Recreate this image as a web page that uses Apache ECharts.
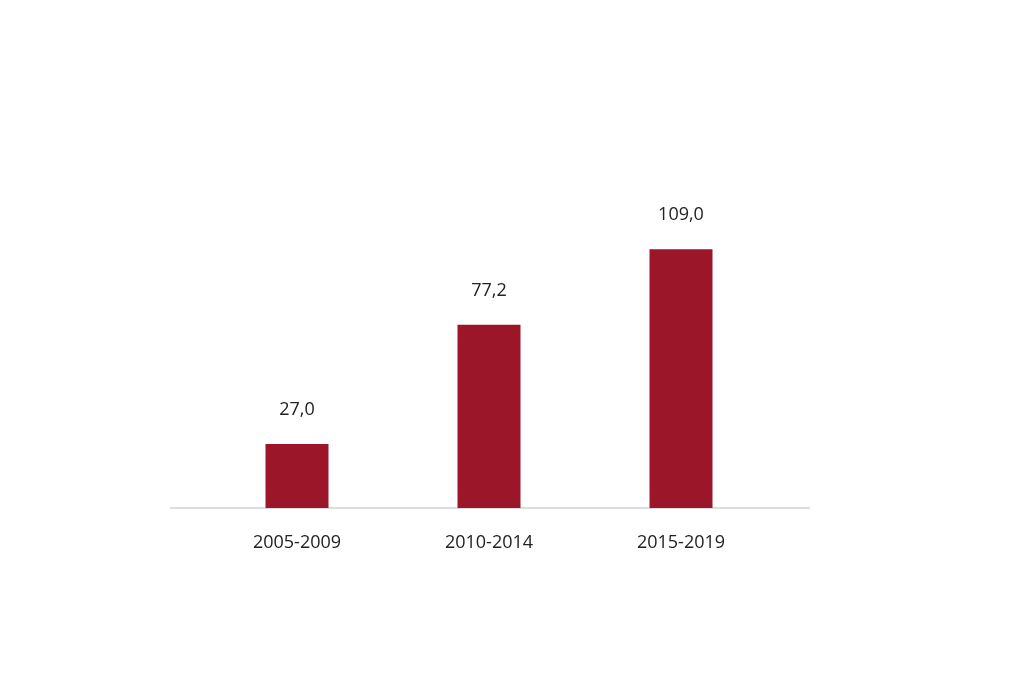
<!DOCTYPE html><html><head><meta charset="utf-8"><script src="https://cdn.jsdelivr.net/npm/echarts@6/dist/echarts.min.js"></script></head><body style="margin:0"><div id="c" style="width:1024px;height:688px"></div><script>
const categories=['2005-2009','2010-2014','2015-2019'];
const values=[27.0,77.2,109.0];
const ch=echarts.init(document.getElementById('c'));
ch.setOption({backgroundColor:'#fff',animation:false,
grid:{left:201,right:247,top:152,bottom:180},
graphic:[{type:'line',shape:{x1:170,y1:508,x2:810,y2:508},style:{stroke:'#bbb',lineWidth:1}}],
xAxis:{type:'category',data:categories,axisLine:{show:false},axisTick:{show:false},axisLabel:{fontFamily:'Open Sans',fontSize:18,color:'#222',margin:26}},
yAxis:{type:'value',min:0,max:150,show:false,splitLine:{show:false}},
series:[{type:'bar',data:values,barWidth:63,itemStyle:{color:'#9B1629'},label:{show:true,position:'top',distance:25,fontFamily:'Open Sans',fontSize:18,color:'#222',formatter:p=>p.value.toFixed(1).replace('.',',')}}]});
</script></body></html>
